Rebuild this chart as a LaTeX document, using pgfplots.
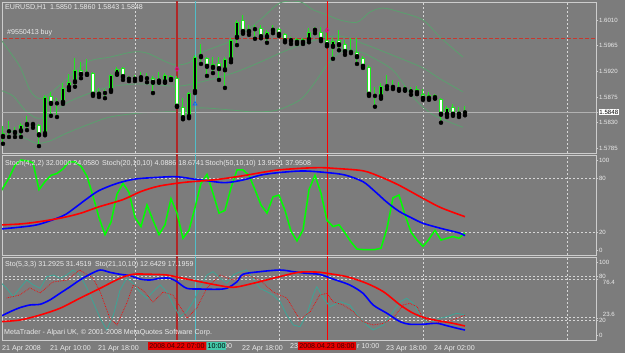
\documentclass[border=0pt]{standalone}
\usepackage{fontspec}
\setmainfont{Liberation Sans}
\usepackage{pgfplots}
\pgfplotsset{compat=1.18}
\usepackage{pgfplotstable}
\definecolor{bg}{RGB}{124,124,124}
\definecolor{frm}{RGB}{205,205,205}
\definecolor{txt}{RGB}{235,235,235}
\definecolor{cg}{RGB}{30,235,30}
\definecolor{band}{RGB}{90,160,110}
\definecolor{grd}{RGB}{215,215,215}
\definecolor{ordr}{RGB}{200,55,45}
\definecolor{vred}{RGB}{175,40,40}
\definecolor{vcy}{RGB}{80,190,200}
\definecolor{tl}{RGB}{60,165,150}
\definecolor{lime}{RGB}{0,255,0}
\newcommand\ft{\fontsize{7.1}{8}\selectfont}
\newcommand\fy{\fontsize{6.1}{7}\selectfont}

% all candles: i high low bodytop bodybottom
\pgfplotstableread{
i h l t b
0 1.5824 1.5793 1.5812 1.5805
1 1.5833 1.5805 1.5817 1.5815
2 1.5822 1.5805 1.5815 1.5812
3 1.5829 1.5805 1.5826 1.5815
4 1.5842 1.5817 1.5829 1.5826
5 1.5831 1.5821 1.5829 1.5826
6 1.5828 1.5789 1.5826 1.5808
7 1.5879 1.5808 1.5875 1.5810
8 1.5884 1.5842 1.5877 1.5863
9 1.5873 1.5840 1.5866 1.5864
10 1.5900 1.5863 1.5891 1.5865
11 1.5915 1.5887 1.5901 1.5891
12 1.5943 1.5893 1.5922 1.5901
13 1.5936 1.5908 1.5922 1.5914
14 1.5942 1.5914 1.5917 1.5914
15 1.5919 1.5877 1.5917 1.5879
16 1.5891 1.5875 1.5884 1.5879
17 1.5889 1.5873 1.5884 1.5882
18 1.5915 1.5884 1.5914 1.5886
19 1.5928 1.5914 1.5924 1.5915
20 1.5928 1.5905 1.5926 1.5910
21 1.5912 1.5903 1.5909 1.5907
22 1.5914 1.5903 1.5909 1.5907
23 1.5919 1.5905 1.5912 1.5908
24 1.5917 1.5901 1.5910 1.5908
25 1.5912 1.5882 1.5908 1.5900
26 1.5919 1.5900 1.5905 1.5902
27 1.5917 1.5900 1.5914 1.5901
28 1.5914 1.5905 1.5912 1.5905
29 1.5912 1.5858 1.5908 1.5858
30 1.5873 1.5836 1.5858 1.5838
31 1.5884 1.5838 1.5882 1.5840
32 1.5949 1.5882 1.5945 1.5884
33 1.5968 1.5933 1.5949 1.5945
34 1.5945 1.5912 1.5943 1.5928
35 1.5945 1.5917 1.5933 1.5926
36 1.5945 1.5905 1.5935 1.5924
37 1.5945 1.5891 1.5942 1.5922
38 1.5979 1.5936 1.5975 1.5940
39 1.6010 1.5966 1.6006 1.5979
40 1.6019 1.5986 1.6010 1.5989
41 1.6001 1.5984 1.5994 1.5989
42 1.6001 1.5977 1.5996 1.5994
43 1.6001 1.5978 1.5996 1.5980
44 1.5993 1.5970 1.5989 1.5980
45 1.6001 1.5987 1.5996 1.5991
46 1.5996 1.5982 1.5994 1.5984
47 1.5987 1.5971 1.5986 1.5973
48 1.5980 1.5968 1.5977 1.5973
49 1.5978 1.5968 1.5977 1.5970
50 1.5978 1.5968 1.5977 1.5970
51 1.5996 1.5971 1.5989 1.5975
52 1.5998 1.5987 1.5994 1.5991
53 1.5998 1.5973 1.5989 1.5975
54 1.5989 1.5964 1.5975 1.5966
55 1.5978 1.5942 1.5973 1.5963
56 1.5993 1.5957 1.5975 1.5966
57 1.5975 1.5949 1.5968 1.5954
58 1.5978 1.5952 1.5956 1.5954
59 1.5978 1.5933 1.5954 1.5945
60 1.5947 1.5926 1.5943 1.5928
61 1.5931 1.5877 1.5928 1.5879
62 1.5893 1.5858 1.5879 1.5877
63 1.5900 1.5872 1.5894 1.5875
64 1.5914 1.5889 1.5896 1.5894
65 1.5905 1.5889 1.5894 1.5891
66 1.5901 1.5886 1.5891 1.5889
67 1.5894 1.5886 1.5891 1.5887
68 1.5893 1.5879 1.5887 1.5885
69 1.5894 1.5880 1.5889 1.5882
70 1.5889 1.5870 1.5880 1.5872
71 1.5884 1.5870 1.5879 1.5872
72 1.5880 1.5872 1.5879 1.5873
73 1.5873 1.5830 1.5872 1.5844
74 1.5859 1.5840 1.5856 1.5844
75 1.5863 1.5842 1.5858 1.5844
76 1.5858 1.5840 1.5849 1.5844
77 1.5860 1.5843 1.5850 1.5848
}\candles
% white (bearish) bodies
\pgfplotstableread{
i t b
5 1.5829 1.5826
6 1.5826 1.5808
8 1.5877 1.5863
13 1.5922 1.5914
15 1.5917 1.5879
20 1.5926 1.5910
25 1.5908 1.5900
28 1.5912 1.5905
29 1.5908 1.5858
30 1.5858 1.5838
33 1.5949 1.5945
34 1.5943 1.5928
36 1.5935 1.5924
40 1.6010 1.5989
43 1.5996 1.5980
46 1.5994 1.5984
47 1.5986 1.5973
49 1.5977 1.5970
53 1.5989 1.5975
54 1.5975 1.5966
56 1.5975 1.5966
57 1.5968 1.5954
59 1.5954 1.5945
60 1.5943 1.5928
61 1.5928 1.5879
65 1.5894 1.5891
67 1.5891 1.5887
69 1.5889 1.5882
70 1.5880 1.5872
72 1.5879 1.5873
73 1.5872 1.5844
75 1.5858 1.5844
}\wbody
% black (bullish) bodies
\pgfplotstableread{
i t b
0 1.5812 1.5805
2 1.5815 1.5812
3 1.5826 1.5815
4 1.5829 1.5826
7 1.5875 1.5810
10 1.5891 1.5865
11 1.5901 1.5891
12 1.5922 1.5901
14 1.5917 1.5914
16 1.5884 1.5879
18 1.5914 1.5886
19 1.5924 1.5915
23 1.5912 1.5908
26 1.5905 1.5902
27 1.5914 1.5901
31 1.5882 1.5840
32 1.5945 1.5884
35 1.5933 1.5926
37 1.5942 1.5922
38 1.5975 1.5940
39 1.6006 1.5979
41 1.5994 1.5989
44 1.5989 1.5980
45 1.5996 1.5991
48 1.5977 1.5973
50 1.5977 1.5970
51 1.5989 1.5975
52 1.5994 1.5991
55 1.5973 1.5963
63 1.5894 1.5875
71 1.5879 1.5872
74 1.5856 1.5844
76 1.5849 1.5844
}\kbody

\pgfplotstableread{
i p
-0.5 1.5978
0.67 1.5961
2.83 1.5928
4.5 1.5887
5.83 1.5873
7 1.5875
9.5 1.5896
14 1.5936
17.83 1.5945
21.67 1.5954
24 1.5952
27.33 1.5936
29 1.5931
31.17 1.5936
32.83 1.5952
38.33 1.5975
42.83 1.6010
46.17 1.6040
49.5 1.6042
51.67 1.6028
54 1.6019
56.17 1.6010
59 1.6006
61.17 1.6024
63.33 1.6031
66.17 1.6024
70 1.6010
72.83 1.5980
76.67 1.5945
}\bbup
\pgfplotstableread{
i p
-0.5 1.5887
1.67 1.5877
3.67 1.5852
5.67 1.5838
7.83 1.5844
10.67 1.5865
14.5 1.5882
17.83 1.5893
22.83 1.5898
29 1.5894
32.83 1.5901
38.33 1.5917
42.83 1.5936
46.17 1.5952
49.5 1.5966
52.83 1.5977
56.17 1.5982
60.67 1.5966
66.17 1.5943
70 1.5926
72.83 1.5907
76.67 1.5884
}\bbmid
\pgfplotstableread{
i p
-0.5 1.5821
1.67 1.5814
3.67 1.5803
5.67 1.5794
7.83 1.5798
10.67 1.5812
14.5 1.5828
17.83 1.5840
22.83 1.5847
29 1.5850
32.83 1.5856
38.33 1.5852
41.67 1.5849
45.67 1.5852
49.5 1.5870
51.67 1.5896
54 1.5931
56.17 1.5954
58.33 1.5957
60.67 1.5949
65 1.5922
68.33 1.5875
71.67 1.5844
76.67 1.5822
}\bblo

\pgfplotstableread{
i v
-1 58
0 69
1 80
2 94
3 100
4 99
5 97
6 67
7 76
8 83
9 85
10 90
11 98
12 98
13 93
14 82
15 60
16 36
17 17
18 31
19 62
20 74
21 64
22 36
23 26
24 50
25 33
26 17
27 28
28 57
29 41
30 13
31 22
32 47
33 74
34 84
35 63
36 41
37 44
38 69
39 89
40 89
41 83
42 67
43 50
44 41
45 59
46 61
47 44
48 21
49 10
50 22
51 67
52 83
53 63
54 33
55 26
56 28
57 19
58 9
59 1
60 0.5
61 0.5
62 0.5
63 2
64 24
65 58
66 61
67 39
68 20
69 11
70 4
71 12
72 22
73 11
74 13
75 15
76 13
77 19
}\stA
\pgfplotstableread{
i v
-0.5 23.3
3 25.5
6 28.5
10 38
12 47
14 57
16 66
19 74
22 78.8
26 80.8
29 81.4
32 78.6
34 77
37 74.8
40 77.8
43 83.3
46 86
50 87.8
54 86
57 83.3
60 75.9
62 65
64 53
66 43
68 36
70 29.7
73 24
76 19
77 16
}\stB
\pgfplotstableread{
i v
-0.5 27.8
3 29
6 31.4
10 36
13 41
16 48
20 56
23 65
26 71
30 75
33 76.7
36 78.6
40 82.5
43 86
46 89
50 90.9
53 91.5
55 90.8
60 88
63 81
66 72
70 57.4
73 47
77 37
}\stC

\pgfplotstableread{
i v
-0.5 73
0.6 64
1.7 52.5
2.8 64
3.95 75.3
5.05 68.5
6.2 64
7.3 79.9
8.4 82.2
9.5 77.7
10.6 82.2
11.7 89
12.8 82.2
14 64
15 45.6
16.2 22.9
17.3 6.8
18.4 27.4
19.5 61.6
20.6 77.7
21.7 70.8
22.8 59.3
24 50.3
25 59.3
26.2 68.5
27.3 59.3
28.4 41.1
29.5 25.1
30.6 31.9
31.7 45.6
32.8 64
34 82.2
35 86.7
36.2 77.7
37.3 70.8
38.4 82.2
39.5 86.7
40.6 89
41.7 77.7
42.8 64
44 59.3
45 54.8
46.2 45.6
47.3 27.4
48.4 13.7
49.5 11.4
50.6 27.4
51.7 54.8
52.3 66.2
53.4 50.3
54.5 38.8
56.2 45.6
57.8 41.1
59.5 22.9
60.6 13.7
61.7 6.8
63.4 13.7
65 31.9
66.2 45.6
67.3 50.3
68.4 43.4
69.5 27.4
70.6 18.2
71.7 18.2
72.8 22.9
74 25.1
75.6 29.7
77 27.4
}\sdA
\pgfplotstableread{
i v
0.6 50.7
2.8 54.8
4.5 64.4
6.2 57.5
8.3 72.6
10.7 75.3
12.8 89
15 78
16.2 58.9
17.8 23.3
19 13.7
20.7 45.2
21.7 68.5
23.3 61.6
25 45.2
26.7 58.9
28.3 54.8
30.7 23.3
32.3 37
34 64.4
36.2 82.2
38.3 75.3
40.7 82.2
42.8 75.3
45 58.9
47.3 50.7
49.5 20.5
51.2 31.9
52.8 54.8
54 57.1
55 45.6
56.7 41.1
58.4 31.9
60 18.2
61.7 13.7
63.4 16
65 22.9
66.7 41.1
67.8 43.4
69 38.8
70 22.9
71.7 16
73.4 18.2
75 20.5
77 27.4
}\sdB
\pgfplotstableread{
i v
-0.5 25.1
1.2 31.9
2.8 37.4
4.5 41.1
6.2 42.1
7.8 47.9
9.5 57.1
11.2 66.2
12.8 75.3
14.5 83.2
16.2 89
17.8 85.9
19.5 83.2
21.2 81.2
22.8 76.7
24.5 75.3
26.2 77.7
27.8 77.7
29 73
30.6 64
32.8 63
35.6 62.6
37.3 64
39 73
40 83.2
42.8 86.7
46.2 89
48.4 86.7
50.6 84.5
52.8 83
55 76.7
57.8 68.5
60 57.1
61.7 41.1
64 29.7
66.2 18.2
67.8 14.7
70 14.7
72.3 16
74 12.7
75.7 9.2
77 6.8
}\sdC
\pgfplotstableread{
i v
-0.5 18.2
2.8 20.5
6.2 27.4
9.5 36.6
12.8 50.3
16.2 64
19.5 77.7
21.7 83.2
24.5 83.2
27.3 82.2
29.5 78.5
32.8 73
35.6 68.5
38.4 65.3
41.7 70.8
45 77.7
48.4 84.5
50 86.5
52.8 86
54 84.5
57.3 79.9
60.6 70.8
63.4 59.3
66.2 41.1
68.4 29.7
70.6 22.9
72.8 19.2
75 16
77 12.3
}\sdD

\pgfplotsset{
  mt/.style={
    scale only axis, width=594pt,
    xmin=-0.1667, xmax=98.8333,
    axis line style={draw=frm, line width=0.7pt},
    xtick={22,46,70,94}, xticklabels={},
    xmajorgrids,
    major x grid style={draw=grd, line width=0.6pt, dash pattern=on 2pt off 2pt},
    xtick style={draw=none},
    ytick pos=right, yticklabel pos=right,
    tick align=outside, ytick style={draw=frm, line width=0.5pt},
    major tick length=2.5pt,
    yticklabel style={font=\fy, text=txt, anchor=west, inner sep=0.4pt},
    clip mode=individual,
    anchor=south west,
  },
  ebar/.style 2 args={only marks, mark=none,
    error bars/.cd, y dir=plus, y explicit, error mark=none,
    error bar style={draw=#1, line width=#2}},
}

\begin{document}
\begin{tikzpicture}[x=1pt,y=1pt]
\useasboundingbox (0,0) rectangle (625,353);
\fill[bg] (0,0) rectangle (625,353);

% ---------------- main price panel
\begin{axis}[mt, at={(2pt,200pt)}, height=151pt,
  ymin=1.57769, ymax=1.60416,
  ytick={1.5785,1.5830,1.5875,1.5920,1.5965,1.6010},
  yticklabels={1.5785,1.5830,1.5875,1.5920,1.5965,1.6010},
  extra y ticks={1.5848}, extra y tick labels={1.5848},
  extra y tick style={yticklabel style={fill=white, text=black, inner sep=0.8pt}},
]
\addplot[band, line width=0.8pt, smooth] table[x=i,y=p] {\bbup};
\addplot[band, line width=0.8pt, smooth] table[x=i,y=p] {\bbmid};
\addplot[band, line width=0.8pt, smooth] table[x=i,y=p] {\bblo};
\addplot[gray!60!white, line width=0.8pt] coordinates {(-1,1.5848) (100,1.5848)};
\addplot[ordr, line width=0.9pt, dash pattern=on 4pt off 2pt] coordinates {(-1,1.5978) (100,1.5978)};
\addplot[vred, line width=1.8pt] coordinates {(29,1.57) (29,1.61)};
\addplot[vcy, line width=0.8pt] coordinates {(32,1.57) (32,1.61)};
\addplot[red, line width=0.6pt] coordinates {(54,1.57) (54,1.61)};
\addplot[ebar={cg}{1pt}] table[x=i, y=l, y error plus expr=\thisrow{h}-\thisrow{l}] {\candles};
\addplot[ebar={cg}{4pt}] table[x=i, y=b, y error plus expr=\thisrow{t}-\thisrow{b}] {\candles};
\addplot[ebar={white}{2pt}] table[x=i, y expr=\thisrow{b}+0.000175, y error plus expr={max(\thisrow{t}-\thisrow{b}-0.00035,0)}] {\wbody};
\addplot[ebar={black}{2pt}] table[x=i, y expr=\thisrow{b}+0.000175, y error plus expr={max(\thisrow{t}-\thisrow{b}-0.00035,0)}] {\kbody};
\addplot[only marks, mark=diamond, mark size=2.2pt, magenta, line width=0.7pt] coordinates {(29,1.5924) (54,1.5992)};
\addplot[only marks, mark=triangle, mark size=2.2pt, blue!60!cyan, line width=0.7pt] coordinates {(32,1.5863)};
\end{axis}

% ---------------- stochastic panel
\begin{axis}[mt, at={(2pt,98pt)}, height=100pt,
  ymin=-5.56, ymax=105.56,
  ytick={0,20,80,100}, yticklabels={0,20,80,100},
]
\addplot[grd, line width=0.6pt, dash pattern=on 2pt off 2pt] coordinates {(-1,80) (100,80)};
\addplot[grd, line width=0.6pt, dash pattern=on 2pt off 2pt] coordinates {(-1,20) (100,20)};
\addplot[vred, line width=1.8pt] coordinates {(29,-10) (29,110)};
\addplot[vcy, line width=0.8pt] coordinates {(32,-10) (32,110)};
\addplot[red, line width=0.6pt] coordinates {(54,-10) (54,110)};
\addplot[lime, line width=1.5pt] table[x=i,y=v] {\stA};
\addplot[blue, line width=1.6pt, smooth] table[x=i,y=v] {\stB};
\addplot[red, line width=1.6pt, smooth] table[x=i,y=v] {\stC};
\end{axis}

% ---------------- second stochastic panel
\begin{axis}[mt, at={(2pt,13pt)}, height=83pt,
  ymin=-6.85, ymax=106.85,
  ytick={0,20,23.6,76.4,80,100}, yticklabels={0,20,,,80,100},
  extra x ticks={0,8,16,40,64,72},
  extra x tick labels={21 Apr 2008,21 Apr 10:00,21 Apr 18:00,22 Apr 18:00,23 Apr 18:00,24 Apr 02:00},
  extra x tick style={grid=none, xticklabel style={font=\ft, text=txt, anchor=west, inner sep=0pt, yshift=-6pt, xshift=-1pt}},
]
\addplot[grd, line width=0.6pt, dash pattern=on 2pt off 2pt] coordinates {(-1,80) (100,80)};
\addplot[grd, line width=0.6pt, dash pattern=on 2pt off 2pt] coordinates {(-1,76.4) (100,76.4)};
\addplot[grd, line width=0.6pt, dash pattern=on 2pt off 2pt] coordinates {(-1,23.6) (100,23.6)};
\addplot[grd, line width=0.6pt, dash pattern=on 2pt off 2pt] coordinates {(-1,20) (100,20)};
\addplot[vred, line width=1.8pt] coordinates {(29,-10) (29,110)};
\addplot[vcy, line width=0.8pt] coordinates {(32,-10) (32,110)};
\addplot[red, line width=0.6pt] coordinates {(54,-10) (54,110)};
\addplot[tl, line width=0.8pt] table[x=i,y=v] {\sdA};
\addplot[red, line width=0.7pt, densely dotted] table[x=i,y=v] {\sdB};
\addplot[blue, line width=1.6pt, smooth] table[x=i,y=v] {\sdC};
\addplot[red, line width=1.6pt, smooth] table[x=i,y=v] {\sdD};
\node[anchor=west, inner sep=0.3pt, font=\fy, text=txt, yshift=-3.6pt] at (axis cs:99.9,76.4) {76.4};
\node[anchor=west, inner sep=0.3pt, font=\fy, text=txt, yshift=3.6pt] at (axis cs:99.9,23.6) {23.6};
\end{axis}

% ---------------- texts
\node[anchor=west, inner sep=0pt, font=\ft, text=txt] at (5,346) {EURUSD,H1\ \ 1.5850 1.5860 1.5843 1.5848};
\node[anchor=west, inner sep=0pt, font=\ft, text=txt] at (7,320) {\#9550413 buy};
\node[anchor=west, inner sep=0pt, font=\ft, text=txt] at (5,189) {Stoch(4,2,2) 32.0000 24.0580};
\node[anchor=west, inner sep=0pt, font=\ft, text=txt] at (102,189) {Stoch(20,10,10) 4.0886 18.6741};
\node[anchor=west, inner sep=0pt, font=\ft, text=txt] at (205,189) {Stoch(50,10,10) 13.9521 37.9508};
\node[anchor=west, inner sep=0pt, font=\ft, text=txt] at (5,88) {Sto(5,3,3) 31.2925 31.4519};
\node[anchor=west, inner sep=0pt, font=\ft, text=txt] at (95,88) {Sto(21,10,10) 12.6429 17.1959};
\node[anchor=west, inner sep=0pt, font=\ft, text=txt] at (4,20) {MetaTrader - Alpari UK, \textcopyright\ 2001-2008 MetaQuotes Software Corp.};
% partly hidden time labels
\node[anchor=west, inner sep=0pt, font=\ft, text=txt] at (224,7) {00};
\node[anchor=west, inner sep=0pt, font=\ft, text=txt] at (290,7) {23};
\node[anchor=west, inner sep=0pt, font=\ft, text=txt] at (357,7) {r 10:00};
% vertical-line time boxes
\node[anchor=west, fill=vcy!85!green, text=black, font=\ft, inner xsep=0.5pt, inner ysep=1.2pt] at (207,7) {10:00};
\node[fill=red!90!black, text=black!75!red, font=\ft, inner xsep=1pt, inner ysep=1.2pt, minimum width=58pt] at (177,7) {2008.04.22 07:00};
\node[fill=red!90!black, text=black!75!red, font=\ft, inner xsep=1pt, inner ysep=1.2pt, minimum width=58pt] at (327,7) {2008.04.23 08:00};
\end{tikzpicture}
\end{document}
